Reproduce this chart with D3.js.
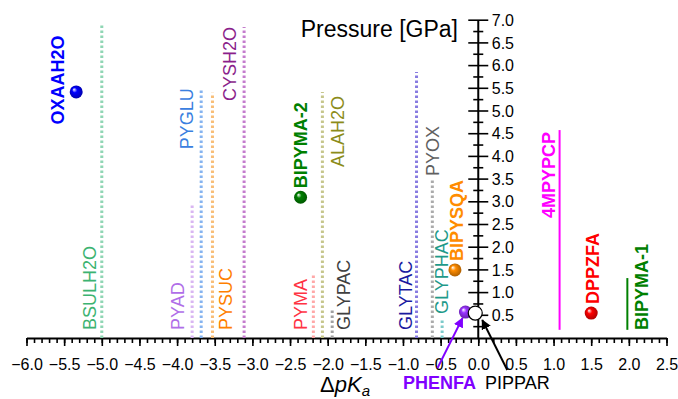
<!DOCTYPE html>
<html><head><meta charset="utf-8">
<script src="https://cdn.jsdelivr.net/npm/d3@7"></script>
<style>
html,body{margin:0;padding:0;background:#fff;}
text{font-family:"Liberation Sans",Arial,sans-serif;}
</style></head>
<body>
<svg id="chart" width="678" height="399"></svg>
<script>
// ---- data ----
const xMajorTicks = d3.range(-6, 2.501, 0.5);
const xMinorTicks = d3.range(-60, 26, 1).map(d => d / 10);
const yMajorTicks = d3.range(0.5, 7.001, 0.5);
const yMinorTicks = d3.range(0.25, 7.0, 0.5);

const lineNames = ["BSULH2O","PYAD","PYGLU","PYSUC","CYSH2O","PYMA","ALAH2O","GLYPAC","GLYTAC","PYOX","GLYPHAC","4MPYPCP","BIPYMA-1"];
const lineDpKa  = [-5.0, -3.8, -3.68, -3.53, -3.11, -2.19, -2.07, -1.94, -0.82, -0.61, -0.48, 1.08, 1.98];
const lineFromP = [0, 0, 0, 0, 0, 0, 0, 0, 0, 0, 0, 0.18, 0.18];
const lineToP   = [6.9, 2.95, 5.5, 5.4, 6.85, 1.43, 5.42, 0.62, 5.86, 3.48, 0.44, 4.58, 1.32];

const pointNames = ["OXAAH2O","BIPYMA-2","BIPYSQA","PHENFA","PIPPAR","DPPZFA"];
const pointDpKa  = [-5.34, -2.36, -0.31, -0.17, -0.04, 1.50];
const pointP     = [5.42, 3.1, 1.5, 0.57, 0.55, 0.55];

// ---- styles (not data) ----
const lineStyle = {
  "BSULH2O": {c:"#8fd6b4", t:"#3cb371", dash:true,  lab:"bottom", dx:-12},
  "PYAD":    {c:"#d9b6f2", t:"#b06ee8", dash:true,  lab:"bottom", dx:-14},
  "PYGLU":   {c:"#86b4f0", t:"#3a80e0", dash:true,  lab:"top",    dx:-14},
  "PYSUC":   {c:"#f8be78", t:"#ff8000", dash:true,  lab:"bottom", dx:13},
  "CYSH2O":  {c:"#c47ccd", t:"#8b1f8b", dash:true,  lab:"top",    dx:-14},
  "PYMA":    {c:"#ffa8a8", t:"#ff3344", dash:true,  lab:"bottom", dx:-13},
  "ALAH2O":  {c:"#c6c68c", t:"#8c8c1a", dash:true,  lab:"top",    dx:15, dy:4},
  "GLYPAC":  {c:"#a0a0a0", t:"#404040", dash:true,  lab:"bottom", dx:11},
  "GLYTAC":  {c:"#877be0", t:"#1a1aa0", dash:true,  lab:"bottom", dx:-11},
  "PYOX":    {c:"#ababab", t:"#606060", dash:true,  lab:"above",  dx:0},
  "GLYPHAC": {c:"#7ccaca", t:"#1f9a8a", dash:true,  lab:"above",  dx:0},
  "4MPYPCP": {c:"#ff00ff", t:"#ff00ff", dash:false, lab:"top",    dx:-11, dy:2, bold:true},
  "BIPYMA-1":{c:"#008000", t:"#008000", dash:false, lab:"bottom", dx:14, bold:true}
};
const pointStyle = {
  "OXAAH2O": {c:"#0000ff", t:"#0000ff", lab:"mid",   dx:-19, dy:-12},
  "BIPYMA-2":{c:"#008000", t:"#008000", lab:"above", dx:0},
  "BIPYSQA": {c:"#ff8c00", t:"#ff8c00", lab:"above", dx:2},
  "PHENFA":  {c:"#9933ff", t:"#8000ff", lab:"below"},
  "PIPPAR":  {c:"#ffffff", t:"#000000", lab:"below", hollow:true},
  "DPPZFA":  {c:"#ff0000", t:"#ff0000", lab:"above", dx:1}
};

const W = 678, H = 399;
const svg = d3.select("#chart");
svg.append("rect").attr("width", W).attr("height", H).attr("fill", "#fff");

const x = d3.scaleLinear().domain([-6, 2.5]).range([26.5, 666.5]);
const y = d3.scaleLinear().domain([0, 7]).range([338, 20.2]);

const defs = svg.append("defs");
Object.entries(pointStyle).forEach(([k, s], i) => {
  const g = defs.append("radialGradient").attr("id", "g" + i)
    .attr("cx", "50%").attr("cy", "50%").attr("r", "55%").attr("fx", "32%").attr("fy", "30%");
  g.append("stop").attr("offset", "0%").attr("stop-color", "#ffffff");
  g.append("stop").attr("offset", "35%").attr("stop-color", s.c);
  g.append("stop").attr("offset", "100%").attr("stop-color", d3.color(s.c).darker(1.2));
  s.grad = "url(#g" + i + ")";
});
[["arrP","#8000ff"],["arrK","#000000"]].forEach(([id, col]) => {
  defs.append("marker").attr("id", id).attr("viewBox", "0 0 10 10")
    .attr("refX", 9).attr("refY", 5).attr("markerWidth", 5).attr("markerHeight", 5)
    .attr("orient", "auto").attr("markerUnits", "strokeWidth")
    .append("path").attr("d", "M0,0 L10,5 L0,10 Z").attr("fill", col);
});

// ---- X axis ----
const xAxisG = svg.append("g").attr("transform", `translate(0,${y(0)})`);
xAxisG.call(d3.axisBottom(x).tickValues(xMinorTicks).tickSize(5).tickFormat(""))
  .call(g => g.select(".domain").remove());
const xMaj = svg.append("g").attr("transform", `translate(0,${y(0)})`)
  .call(d3.axisBottom(x).tickValues(xMajorTicks).tickSize(8).tickSizeOuter(0).tickPadding(13).tickFormat(d3.format(".1f")));
svg.selectAll("g.tick line").attr("stroke", "#000").attr("stroke-width", 1.6);
svg.selectAll(".domain").attr("stroke", "#000").attr("stroke-width", 2);
xMaj.selectAll("text").attr("font-size", 16).attr("fill", "#000").attr("font-family", "Liberation Sans, Arial, sans-serif");

// ---- Y axis ----
const x0 = x(0);
const yAxisG = svg.append("g").attr("transform", `translate(${x0},0)`);
yAxisG.append("line").attr("x1", 0).attr("x2", 0).attr("y1", y(0)).attr("y2", y(7))
  .attr("stroke", "#000").attr("stroke-width", 2);
yAxisG.selectAll("line.mj").data(yMajorTicks).join("line").attr("class", "mj")
  .attr("x1", -10).attr("x2", 10).attr("y1", d => y(d)).attr("y2", d => y(d))
  .attr("stroke", "#000").attr("stroke-width", 1.6);
yAxisG.selectAll("line.mn").data(yMinorTicks).join("line").attr("class", "mn")
  .attr("x1", -5).attr("x2", 5).attr("y1", d => y(d)).attr("y2", d => y(d))
  .attr("stroke", "#000").attr("stroke-width", 1.6);
yAxisG.selectAll("text").data(yMajorTicks).join("text")
  .attr("x", 13.5).attr("y", d => y(d)).attr("dy", "0.35em")
  .attr("font-size", 16).attr("fill", "#000").text(d3.format(".1f"));

svg.append("text").attr("x", 458).attr("y", 37).attr("text-anchor", "end")
  .attr("font-size", 23).attr("fill", "#000").text("Pressure [GPa]");

const xl = svg.append("text").attr("x", 320).attr("y", 392).attr("font-size", 22).attr("fill", "#000");
xl.append("tspan").text("\u0394");
xl.append("tspan").attr("font-style", "italic").text("pK");
xl.append("tspan").attr("font-style", "italic").attr("font-size", 15).attr("dy", 4).text("a");

// ---- vertical lines ----
const lines = lineNames.map((n, i) => ({n, v: lineDpKa[i], p0: lineFromP[i], p1: lineToP[i], s: lineStyle[n]}));
svg.append("g").selectAll("line").data(lines).join("line")
  .attr("x1", d => x(d.v)).attr("x2", d => x(d.v))
  .attr("y1", d => y(d.p0)).attr("y2", d => y(d.p1))
  .attr("stroke", d => d.s.c)
  .attr("stroke-width", d => d.s.dash ? 3 : 2)
  .attr("stroke-dasharray", d => d.s.dash ? "2.6,2.4" : null);

function rotLabel(px, py, anchor, txt, col, bold) {
  svg.append("text")
    .attr("transform", `translate(${px},${py}) rotate(-90)`)
    .attr("text-anchor", anchor).attr("dy", "0.35em")
    .attr("font-size", 18).attr("font-weight", bold ? "bold" : "normal")
    .attr("fill", col).text(txt);
}
lines.forEach(d => {
  const px = x(d.v) + d.s.dx;
  if (d.s.lab === "bottom") rotLabel(px, y(0) - 8, "start", d.n, d.s.t, d.s.bold);
  else if (d.s.lab === "top") rotLabel(px, y(d.p1) + (d.s.dy || 0), "end", d.n, d.s.t, d.s.bold);
  else rotLabel(px, y(d.p1) - 4, "start", d.n, d.s.t, d.s.bold);
});

// ---- points ----
const pts = pointNames.map((n, i) => ({n, v: pointDpKa[i], p: pointP[i], s: pointStyle[n]}));

const pPH = pts.find(d => d.n === "PHENFA"), pPI = pts.find(d => d.n === "PIPPAR");
svg.append("line").attr("x1", x(pPH.v) - 28).attr("y1", y(pPH.p) + 56)
  .attr("x2", x(pPH.v) - 3).attr("y2", y(pPH.p) + 6)
  .attr("stroke", "#8000ff").attr("stroke-width", 2).attr("marker-end", "url(#arrP)");
svg.append("line").attr("x1", x(pPI.v) + 32).attr("y1", y(pPI.p) + 57)
  .attr("x2", x(pPI.v) + 7).attr("y2", y(pPI.p) + 7)
  .attr("stroke", "#000").attr("stroke-width", 2).attr("marker-end", "url(#arrK)");

svg.append("g").selectAll("circle").data(pts).join("circle")
  .attr("cx", d => x(d.v)).attr("cy", d => y(d.p))
  .attr("r", d => d.s.hollow ? 7 : 6.5)
  .attr("fill", d => d.s.hollow ? "#fff" : d.s.grad)
  .attr("stroke", d => d.s.hollow ? "#000" : "none").attr("stroke-width", 1.2);

pts.forEach(d => {
  const px = x(d.v), py = y(d.p);
  if (d.s.lab === "mid") rotLabel(px + d.s.dx, py + d.s.dy, "middle", d.n, d.s.t, true);
  else if (d.s.lab === "above") rotLabel(px + d.s.dx, py - 9, "start", d.n, d.s.t, true);
});
svg.append("text").attr("x", 403).attr("y", 389).attr("font-size", 18).attr("font-weight", "bold")
  .attr("fill", pPH.s.t).text(pPH.n);
svg.append("text").attr("x", 485).attr("y", 389).attr("font-size", 18)
  .attr("fill", pPI.s.t).text(pPI.n);
</script>
</body></html>
